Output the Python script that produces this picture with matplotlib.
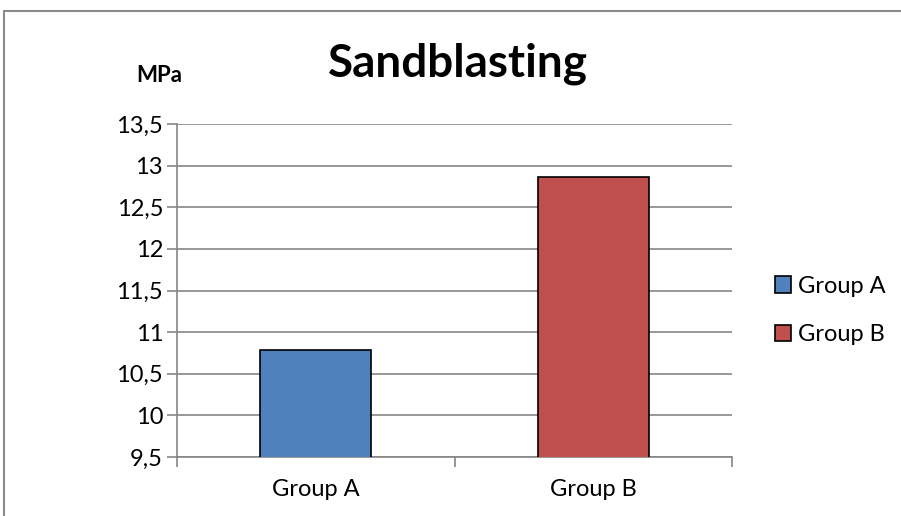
import matplotlib.pyplot as plt
from matplotlib.patches import Rectangle
from matplotlib.ticker import FuncFormatter

categories = ['Group A', 'Group B']
values = [10.79, 12.86]
colors = ['#4F81BD', '#C0504D']
yticks = [9.5, 10, 10.5, 11, 11.5, 12, 12.5, 13, 13.5]

plt.rcParams['font.family'] = ['Lato', 'DejaVu Sans']

fig = plt.figure(figsize=(9.01, 5.16), dpi=100)
fig.patches.append(Rectangle((4 / 901, -0.1), 1.1, 1 - 11 / 516 + 0.1,
                             transform=fig.transFigure, fill=False,
                             edgecolor='#8c8c8c', linewidth=1.5, zorder=0))

ax = fig.add_axes([177 / 901, 59 / 516, 555 / 901, 333 / 516])
x = range(len(categories))
bars = ax.bar(x, values, width=0.4, color=colors, edgecolor='black',
              linewidth=1.2, zorder=3)

ax.set_ylim(9.5, 13.5)
ax.set_xlim(-0.5, 1.5)
ax.set_yticks(yticks)
ax.yaxis.set_major_formatter(FuncFormatter(lambda v, p: ('%g' % v).replace('.', ',')))
ax.yaxis.grid(True, color='#868686', linewidth=1.2, zorder=0)
ax.tick_params(axis='y', labelsize=17, length=7, color='#868686', width=1.2, pad=3)

ax.set_xticks(list(x))
ax.set_xticklabels(categories, fontsize=17)
ax.tick_params(axis='x', length=0, pad=16)
ax.set_xticks([-0.5, 0.5, 1.5], minor=True)
ax.tick_params(axis='x', which='minor', length=7, color='#868686', width=1.2)

for side in ['top', 'right']:
    ax.spines[side].set_visible(False)
for side in ['left', 'bottom']:
    ax.spines[side].set_color('#868686')
    ax.spines[side].set_linewidth(1.2)

fig.text(458 / 901, 1 - 64 / 516, 'Sandblasting', fontsize=33, fontweight='bold',
         ha='center', va='center')
fig.text(159 / 901, 1 - 76 / 516, 'MPa', fontsize=16, fontweight='bold',
         ha='center', va='center')

ax.legend(bars, categories, loc='center left', bbox_to_anchor=(1.06, 0.44),
          frameon=False, fontsize=17, handlelength=0.7, handleheight=0.7,
          handletextpad=0.3, labelspacing=1.15, borderaxespad=0)

fig.savefig('out.png', dpi=100)
